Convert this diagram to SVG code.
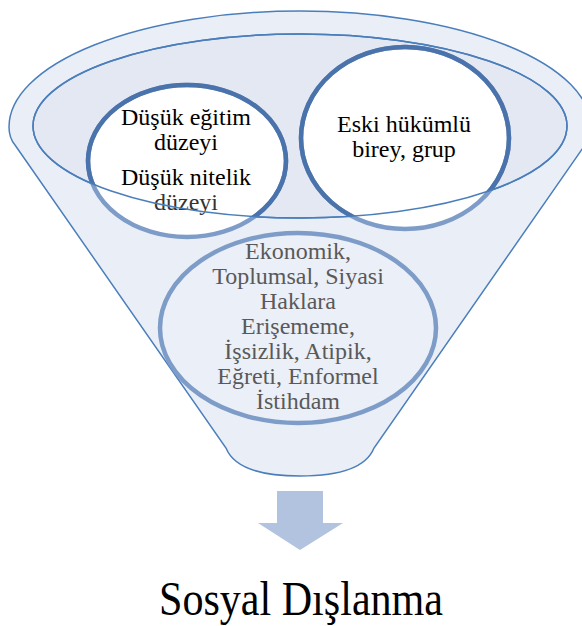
<svg xmlns="http://www.w3.org/2000/svg" width="582" height="626" viewBox="0 0 582 626">
<style>
.line{stroke:#4a7ebb;stroke-width:1.5}
.dark{fill:none;stroke:#4a72ab;stroke-width:4.5}
.light{stroke:#7d9cc8;stroke-width:4.5}
.t{font-family:"Liberation Serif","Times New Roman",serif;font-size:24px;text-anchor:middle;fill:#000}
.g{fill:#595959}
</style>
<defs>
<clipPath id="inner"><ellipse cx="300" cy="126" rx="267" ry="92"/></clipPath>
</defs>
<rect width="582" height="626" fill="#fff"/>
<g id="funnel">
<path class="line" fill="#eaeef7" d="M 15,145 C 10,139 9,133 9,127 A 291 116 0 0 1 591,127 C 591,133 590,139 585,145 L 374,448 C 366,468 340,476 300,476 C 260,476 234,468 226,448 Z"/>
<ellipse class="line" fill="#e3e8f2" cx="300" cy="126" rx="267" ry="92"/>
</g>
<g id="node-egitim">
<ellipse class="light" fill="#fff" cx="187" cy="161" rx="99" ry="76"/>
<ellipse class="dark" cx="187" cy="161" rx="99" ry="76" clip-path="url(#inner)"/>
<text class="t" x="186" y="125">Düşük eğitim</text>
<text class="t" x="186" y="150">düzeyi</text>
<text class="t" x="186" y="185">Düşük nitelik</text>
<text class="t" x="186" y="210" style="fill:#333">düzeyi</text>
</g>
<g id="node-hukumlu">
<ellipse class="light" fill="#fff" cx="405" cy="138" rx="104" ry="91"/>
<ellipse class="dark" cx="405" cy="138" rx="104" ry="91" clip-path="url(#inner)"/>
<text class="t" x="404" y="132">Eski hükümlü</text>
<text class="t" x="404" y="157">birey, grup</text>
</g>
<ellipse class="line" fill="none" cx="300" cy="126" rx="267" ry="92"/>
<g id="node-haklar">
<ellipse class="light" fill="#ebeff7" cx="298" cy="328" rx="138" ry="95"/>
<text class="t g" x="298" y="259">Ekonomik,</text>
<text class="t g" x="298" y="284">Toplumsal, Siyasi</text>
<text class="t g" x="298" y="309">Haklara</text>
<text class="t g" x="298" y="334">Erişememe,</text>
<text class="t g" x="298" y="359">İşsizlik, Atipik,</text>
<text class="t g" x="298" y="384">Eğreti, Enformel</text>
<text class="t g" x="298" y="409">İstihdam</text>
</g>
<g id="connectors">
<path fill="#b1c3df" d="M 277,491 L 323,491 L 323,523 L 343,523 L 300,550 L 258,523 L 277,523 Z"/>
</g>
<g id="node-result">
<text x="159" y="615" textLength="284" lengthAdjust="spacingAndGlyphs" style="font-family:'Liberation Serif','Times New Roman',serif;font-size:48px;fill:#000">Sosyal Dışlanma</text>
</g>
</svg>
